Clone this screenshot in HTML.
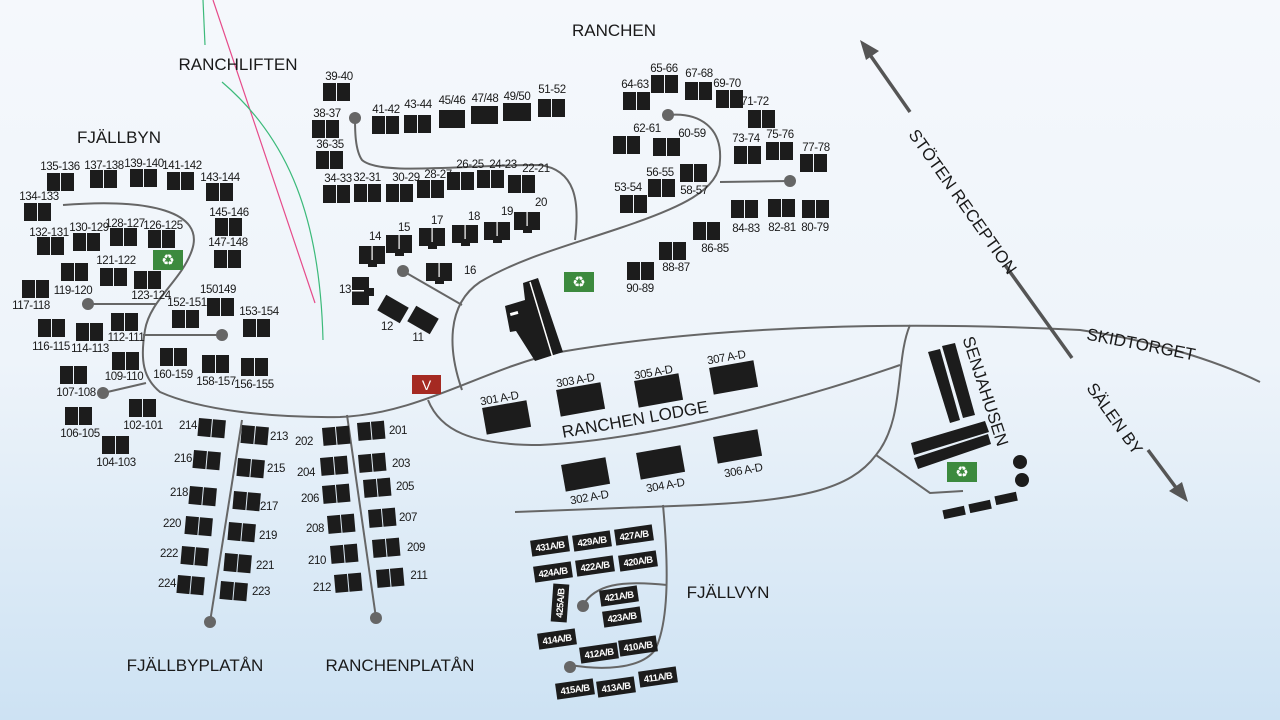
<!DOCTYPE html>
<html><head><meta charset="utf-8"><style>
html,body{margin:0;padding:0;width:1280px;height:720px;overflow:hidden}
svg{display:block}
text{font-family:"Liberation Sans Narrow","Liberation Sans",sans-serif;fill:#1a1a1a}
.n{font-size:11.5px;text-anchor:middle;letter-spacing:-0.4px}
.t{font-size:17px;text-anchor:middle;font-family:"Liberation Sans",sans-serif}
.r{fill:none;stroke:#666;stroke-width:2}
.w{font-size:9.5px;fill:#fff;text-anchor:middle;font-weight:bold;letter-spacing:-0.5px}
</style></head><body>
<svg width="1280" height="720" viewBox="0 0 1280 720" xmlns="http://www.w3.org/2000/svg">
<defs>
<linearGradient id="bg" x1="0" y1="0" x2="0" y2="1">
<stop offset="0" stop-color="#f5f8fc"/><stop offset="0.5" stop-color="#eef4fa"/><stop offset="1" stop-color="#cde2f3"/></linearGradient>
<symbol id="p" overflow="visible"><rect x="0" y="0" width="13" height="18" fill="#1c1c1c"/><rect x="14" y="0" width="13" height="18" fill="#1c1c1c"/></symbol>
<symbol id="h" overflow="visible"><rect x="0" y="0" width="26" height="18" fill="#1c1c1c"/><rect x="9" y="17" width="9" height="4" fill="#1c1c1c"/><rect x="12.5" y="0" width="1.2" height="14" fill="#fff"/></symbol>
<symbol id="rc" overflow="visible"><rect width="30" height="20" fill="#3c8a3e"/><text x="15" y="15" style="font-size:15px;fill:#fff;text-anchor:middle;font-family:'DejaVu Sans',sans-serif">♻</text></symbol>
</defs>
<rect width="1280" height="720" fill="url(#bg)"/>

<!-- lift lines -->
<path d="M213,0 L315,303" stroke="#e64b8a" stroke-width="1.2" fill="none"/>
<path d="M203,0 L205,45" stroke="#3cba7a" stroke-width="1.2" fill="none"/>
<path d="M222,82 C290,140 320,220 323,340" stroke="#3cba7a" stroke-width="1.2" fill="none"/>

<!-- roads -->
<path class="r" d="M63,205 C150,198 205,212 192,250 C182,280 150,300 145,330 C140,360 143,378 160,392 C200,410 270,418 340,417 C420,414 480,370 560,352 C700,328 880,320 1080,330 C1150,340 1215,360 1260,382"/>
<path class="r" d="M88,304 L157,304"/>
<path class="r" d="M143,335 L222,335"/>
<path class="r" d="M103,393 L146,383"/>
<path class="r" d="M242,420 L210,622"/>
<path class="r" d="M347,415 L376,618"/>
<path class="r" d="M462,390 C448,350 446,305 480,282 C520,258 570,245 620,228 C680,208 720,190 720,160 C722,128 700,112 668,115"/>
<path class="r" d="M720,182 L790,181"/>
<path class="r" d="M575,240 C580,200 575,170 540,165 C460,165 380,176 362,160 C355,150 355,130 355,118"/>
<path class="r" d="M403,271 L462,305"/>
<path class="r" d="M428,400 C440,430 470,445 540,445 C650,440 800,400 900,365"/>
<path class="r" d="M910,325 C895,360 905,420 876,455 C850,490 800,500 700,505 L515,512"/>
<path class="r" d="M876,455 L930,493 L963,491"/>
<path class="r" d="M663,505 C668,560 670,620 655,650 C640,670 600,670 570,665"/>
<path class="r" d="M667,585 C620,580 595,585 583,605"/>
<g fill="#666">
<circle cx="88" cy="304" r="6"/><circle cx="222" cy="335" r="6"/><circle cx="103" cy="393" r="6"/>
<circle cx="210" cy="622" r="6"/><circle cx="376" cy="618" r="6"/><circle cx="355" cy="118" r="6"/>
<circle cx="668" cy="115" r="6"/><circle cx="790" cy="181" r="6"/><circle cx="403" cy="271" r="6"/>
<circle cx="583" cy="606" r="6"/><circle cx="570" cy="667" r="6"/>
</g>

<!-- arrows -->
<g stroke="#555" stroke-width="3.5" fill="none">
<path d="M868,52 L910,112"/><path d="M1005,265 L1072,358"/><path d="M1148,450 L1180,493"/>
</g>
<polygon points="860,40 879,51 866,60" fill="#555"/>
<polygon points="1188,502 1169,491 1182,482" fill="#555"/>
<text class="t" transform="translate(958,205) rotate(54.6)">STÖTEN RECEPTION</text>
<text class="t" transform="translate(1110,422) rotate(54.6)">SÄLEN BY</text>
<text class="t" transform="translate(1140,350) rotate(11)">SKIDTORGET</text>

<!-- titles -->
<text class="t" x="614" y="36">RANCHEN</text>
<text class="t" x="238" y="70">RANCHLIFTEN</text>
<text class="t" x="119" y="143">FJÄLLBYN</text>
<text class="t" x="195" y="671">FJÄLLBYPLATÅN</text>
<text class="t" x="400" y="671">RANCHENPLATÅN</text>
<text class="t" x="728" y="598">FJÄLLVYN</text>
<text class="t" transform="translate(636,425) rotate(-10)">RANCHEN LODGE</text>
<text class="t" transform="translate(980,393) rotate(72)">SENJAHUSEN</text>

<!-- Fjällbyn -->
<g>
<use href="#p" x="47" y="173"/><use href="#p" x="90" y="170"/><use href="#p" x="130" y="169"/><use href="#p" x="167" y="172"/>
<use href="#p" x="206" y="183"/><use href="#p" x="24" y="203"/><use href="#p" x="215" y="218"/><use href="#p" x="214" y="250"/>
<use href="#p" x="37" y="237"/><use href="#p" x="73" y="233"/><use href="#p" x="110" y="228"/><use href="#p" x="148" y="230"/>
<use href="#p" x="100" y="268"/><use href="#p" x="134" y="271"/><use href="#p" x="61" y="263"/><use href="#p" x="22" y="280"/>
<use href="#p" x="207" y="298"/><use href="#p" x="172" y="310"/><use href="#p" x="243" y="319"/><use href="#p" x="38" y="319"/>
<use href="#p" x="76" y="323"/><use href="#p" x="111" y="313"/><use href="#p" x="112" y="352"/><use href="#p" x="160" y="348"/>
<use href="#p" x="202" y="355"/><use href="#p" x="241" y="358"/><use href="#p" x="60" y="366"/><use href="#p" x="65" y="407"/>
<use href="#p" x="129" y="399"/><use href="#p" x="102" y="436"/>
<use href="#rc" x="153" y="250"/>
</g>
<g class="n">
<text class="n" x="60" y="170">135-136</text><text class="n" x="104" y="169">137-138</text><text class="n" x="144" y="167">139-140</text><text class="n" x="182" y="169">141-142</text>
<text class="n" x="220" y="181">143-144</text><text class="n" x="39" y="200">134-133</text><text class="n" x="229" y="216">145-146</text><text class="n" x="228" y="246">147-148</text>
<text class="n" x="49" y="236">132-131</text><text class="n" x="89" y="231">130-129</text><text class="n" x="125" y="227">128-127</text><text class="n" x="163" y="229">126-125</text>
<text class="n" x="116" y="264">121-122</text><text class="n" x="151" y="299">123-124</text><text class="n" x="73" y="294">119-120</text><text class="n" x="31" y="309">117-118</text>
<text class="n" x="218" y="293">150149</text><text class="n" x="187" y="306">152-151</text><text class="n" x="259" y="315">153-154</text><text class="n" x="51" y="350">116-115</text>
<text class="n" x="90" y="352">114-113</text><text class="n" x="126" y="341">112-111</text><text class="n" x="124" y="380">109-110</text><text class="n" x="173" y="378">160-159</text>
<text class="n" x="216" y="385">158-157</text><text class="n" x="254" y="388">156-155</text><text class="n" x="76" y="396">107-108</text><text class="n" x="80" y="437">106-105</text>
<text class="n" x="143" y="429">102-101</text><text class="n" x="116" y="466">104-103</text>
</g>

<!-- 200s -->
<g>
<use href="#p" transform="translate(199,418) rotate(5)"/><use href="#p" transform="translate(242,425) rotate(5)"/>
<use href="#p" transform="translate(194,450) rotate(5)"/><use href="#p" transform="translate(238,458) rotate(5)"/>
<use href="#p" transform="translate(190,486) rotate(5)"/><use href="#p" transform="translate(234,491) rotate(5)"/>
<use href="#p" transform="translate(186,516) rotate(5)"/><use href="#p" transform="translate(229,522) rotate(5)"/>
<use href="#p" transform="translate(182,546) rotate(5)"/><use href="#p" transform="translate(225,553) rotate(5)"/>
<use href="#p" transform="translate(178,575) rotate(5)"/><use href="#p" transform="translate(221,581) rotate(5)"/>
<use href="#p" transform="translate(322,428) rotate(-5)"/><use href="#p" transform="translate(357,423) rotate(-5)"/>
<use href="#p" transform="translate(320,458) rotate(-5)"/><use href="#p" transform="translate(358,455) rotate(-5)"/>
<use href="#p" transform="translate(322,486) rotate(-5)"/><use href="#p" transform="translate(363,480) rotate(-5)"/>
<use href="#p" transform="translate(327,516) rotate(-5)"/><use href="#p" transform="translate(368,510) rotate(-5)"/>
<use href="#p" transform="translate(330,546) rotate(-5)"/><use href="#p" transform="translate(372,540) rotate(-5)"/>
<use href="#p" transform="translate(334,575) rotate(-5)"/><use href="#p" transform="translate(376,570) rotate(-5)"/>
</g>
<text class="n" x="188" y="429">214</text><text class="n" x="279" y="440">213</text><text class="n" x="183" y="462">216</text><text class="n" x="276" y="472">215</text>
<text class="n" x="179" y="496">218</text><text class="n" x="269" y="510">217</text><text class="n" x="172" y="527">220</text><text class="n" x="268" y="539">219</text>
<text class="n" x="169" y="557">222</text><text class="n" x="265" y="569">221</text><text class="n" x="167" y="587">224</text><text class="n" x="261" y="595">223</text>
<text class="n" x="304" y="445">202</text><text class="n" x="398" y="434">201</text><text class="n" x="306" y="476">204</text><text class="n" x="401" y="467">203</text>
<text class="n" x="310" y="502">206</text><text class="n" x="405" y="490">205</text><text class="n" x="315" y="532">208</text><text class="n" x="408" y="521">207</text>
<text class="n" x="317" y="564">210</text><text class="n" x="416" y="551">209</text><text class="n" x="322" y="591">212</text><text class="n" x="419" y="579">211</text>

<!-- Ranchen -->
<g>
<use href="#p" x="323" y="83"/><use href="#p" x="312" y="120"/><use href="#p" x="316" y="151"/>
<use href="#p" x="372" y="116"/><use href="#p" x="404" y="115"/>
<rect x="439" y="110" width="26" height="18" fill="#1c1c1c"/><rect x="471" y="106" width="27" height="18" fill="#1c1c1c"/><rect x="503" y="103" width="28" height="18" fill="#1c1c1c"/>
<use href="#p" x="538" y="99"/><use href="#p" x="323" y="185"/><use href="#p" x="354" y="184"/><use href="#p" x="386" y="184"/>
<use href="#p" x="417" y="180"/><use href="#p" x="447" y="172"/><use href="#p" x="477" y="170"/><use href="#p" x="508" y="175"/>
<use href="#h" x="359" y="246"/><use href="#h" x="386" y="235"/><use href="#h" x="419" y="228"/><use href="#h" x="452" y="225"/>
<use href="#h" x="484" y="222"/><use href="#h" x="514" y="212"/><use href="#h" x="426" y="263"/>
<rect x="352" y="277" width="17" height="28" fill="#1c1c1c"/><rect x="369" y="288" width="5" height="8" fill="#1c1c1c"/><rect x="352" y="290" width="12" height="1.5" fill="#fff"/>
<rect x="380" y="300" width="26" height="18" fill="#1c1c1c" transform="rotate(30 393 309)"/>
<rect x="410" y="311" width="26" height="18" fill="#1c1c1c" transform="rotate(30 423 320)"/>
<polygon points="523,283 538,278 563,352 535,361 516,331 510,332 505,306 525,300" fill="#1c1c1c"/>
<line x1="530" y1="282" x2="553" y2="358" stroke="#fff" stroke-width="1.5"/>
<rect x="510" y="312" width="8" height="3" fill="#fff" transform="rotate(-15 514 313)"/>
<use href="#rc" x="564" y="272"/>
<use href="#p" x="623" y="92"/><use href="#p" x="651" y="75"/><use href="#p" x="685" y="82"/><use href="#p" x="716" y="90"/>
<use href="#p" x="748" y="110"/><use href="#p" x="613" y="136"/><use href="#p" x="653" y="138"/><use href="#p" x="734" y="146"/>
<use href="#p" x="766" y="142"/><use href="#p" x="800" y="154"/><use href="#p" x="648" y="179"/><use href="#p" x="680" y="164"/>
<use href="#p" x="620" y="195"/><use href="#p" x="731" y="200"/><use href="#p" x="768" y="199"/><use href="#p" x="802" y="200"/>
<use href="#p" x="693" y="222"/><use href="#p" x="659" y="242"/><use href="#p" x="627" y="262"/>
</g>
<text class="n" x="339" y="80">39-40</text><text class="n" x="327" y="117">38-37</text><text class="n" x="330" y="148">36-35</text>
<text class="n" x="386" y="113">41-42</text><text class="n" x="418" y="108">43-44</text><text class="n" x="452" y="104">45/46</text>
<text class="n" x="485" y="102">47/48</text><text class="n" x="517" y="100">49/50</text><text class="n" x="552" y="93">51-52</text>
<text class="n" x="338" y="182">34-33</text><text class="n" x="367" y="181">32-31</text><text class="n" x="406" y="181">30-29</text><text class="n" x="438" y="178">28-27</text>
<text class="n" x="470" y="168">26-25</text><text class="n" x="503" y="168">24-23</text><text class="n" x="536" y="172">22-21</text>
<text class="n" x="375" y="240">14</text><text class="n" x="404" y="231">15</text><text class="n" x="437" y="224">17</text><text class="n" x="474" y="220">18</text>
<text class="n" x="507" y="215">19</text><text class="n" x="541" y="206">20</text><text class="n" x="470" y="274">16</text>
<text class="n" x="345" y="293">13</text><text class="n" x="387" y="330">12</text><text class="n" x="418" y="341">11</text>
<text class="n" x="635" y="88">64-63</text><text class="n" x="664" y="72">65-66</text><text class="n" x="699" y="77">67-68</text><text class="n" x="727" y="87">69-70</text>
<text class="n" x="755" y="105">71-72</text><text class="n" x="647" y="132">62-61</text><text class="n" x="692" y="137">60-59</text><text class="n" x="746" y="142">73-74</text>
<text class="n" x="780" y="138">75-76</text><text class="n" x="816" y="151">77-78</text><text class="n" x="660" y="176">56-55</text><text class="n" x="694" y="194">58-57</text>
<text class="n" x="628" y="191">53-54</text><text class="n" x="746" y="232">84-83</text><text class="n" x="782" y="231">82-81</text><text class="n" x="815" y="231">80-79</text>
<text class="n" x="715" y="252">86-85</text><text class="n" x="676" y="271">88-87</text><text class="n" x="640" y="292">90-89</text>

<!-- V -->
<rect x="412" y="375" width="29" height="19" fill="#a52a22"/>
<text x="426.5" y="390" style="font-size:14px;fill:#fff;text-anchor:middle;font-family:'Liberation Sans',sans-serif">V</text>

<!-- lodge 300s -->
<g fill="#1c1c1c">
<rect x="484" y="404" width="45" height="27" transform="rotate(-10 506 417)"/>
<rect x="558" y="386" width="45" height="27" transform="rotate(-10 580 399)"/>
<rect x="636" y="377" width="45" height="27" transform="rotate(-10 658 390)"/>
<rect x="711" y="364" width="45" height="27" transform="rotate(-10 733 377)"/>
<rect x="563" y="461" width="45" height="27" transform="rotate(-10 585 474)"/>
<rect x="638" y="449" width="45" height="27" transform="rotate(-10 660 462)"/>
<rect x="715" y="433" width="45" height="27" transform="rotate(-10 737 446)"/>
</g>
<text class="n" transform="translate(500,402) rotate(-10)">301 A-D</text>
<text class="n" transform="translate(576,384) rotate(-10)">303 A-D</text>
<text class="n" transform="translate(654,376) rotate(-10)">305 A-D</text>
<text class="n" transform="translate(727,361) rotate(-10)">307 A-D</text>
<text class="n" transform="translate(590,501) rotate(-10)">302 A-D</text>
<text class="n" transform="translate(666,489) rotate(-10)">304 A-D</text>
<text class="n" transform="translate(744,474) rotate(-10)">306 A-D</text>

<!-- Senjahusen -->
<g fill="#1c1c1c">
<polygon points="928,352 940,349 960,420 950,423"/>
<polygon points="942,346 955,343 975,415 963,418"/>
<polygon points="911,443 985,421 989,432 914,455"/>
<polygon points="914,458 988,434 991,444 918,469"/>
<circle cx="1020" cy="462" r="7"/><circle cx="1022" cy="480" r="7"/>
<rect x="943" y="508" width="22" height="9" transform="rotate(-12 954 512)"/>
<rect x="969" y="502" width="22" height="9" transform="rotate(-12 980 506)"/>
<rect x="995" y="494" width="22" height="9" transform="rotate(-12 1006 498)"/>
</g>
<use href="#rc" x="947" y="462"/>

<!-- Fjällvyn -->
<g>
<g transform="translate(550,546) rotate(-8)"><rect x="-19" y="-8" width="38" height="16" fill="#1c1c1c"/><text class="w" y="3.5">431A/B</text></g>
<g transform="translate(592,541) rotate(-8)"><rect x="-19" y="-8" width="38" height="16" fill="#1c1c1c"/><text class="w" y="3.5">429A/B</text></g>
<g transform="translate(634,535) rotate(-8)"><rect x="-19" y="-8" width="38" height="16" fill="#1c1c1c"/><text class="w" y="3.5">427A/B</text></g>
<g transform="translate(553,572) rotate(-8)"><rect x="-19" y="-8" width="38" height="16" fill="#1c1c1c"/><text class="w" y="3.5">424A/B</text></g>
<g transform="translate(595,566) rotate(-8)"><rect x="-19" y="-8" width="38" height="16" fill="#1c1c1c"/><text class="w" y="3.5">422A/B</text></g>
<g transform="translate(638,561) rotate(-8)"><rect x="-19" y="-8" width="38" height="16" fill="#1c1c1c"/><text class="w" y="3.5">420A/B</text></g>
<g transform="translate(560,603) rotate(-86)"><rect x="-19" y="-8" width="38" height="16" fill="#1c1c1c"/><text class="w" y="3.5">425A/B</text></g>
<g transform="translate(619,596) rotate(-8)"><rect x="-19" y="-8" width="38" height="16" fill="#1c1c1c"/><text class="w" y="3.5">421A/B</text></g>
<g transform="translate(622,617) rotate(-8)"><rect x="-19" y="-8" width="38" height="16" fill="#1c1c1c"/><text class="w" y="3.5">423A/B</text></g>
<g transform="translate(557,639) rotate(-8)"><rect x="-19" y="-8" width="38" height="16" fill="#1c1c1c"/><text class="w" y="3.5">414A/B</text></g>
<g transform="translate(599,653) rotate(-8)"><rect x="-19" y="-8" width="38" height="16" fill="#1c1c1c"/><text class="w" y="3.5">412A/B</text></g>
<g transform="translate(638,646) rotate(-8)"><rect x="-19" y="-8" width="38" height="16" fill="#1c1c1c"/><text class="w" y="3.5">410A/B</text></g>
<g transform="translate(575,689) rotate(-8)"><rect x="-19" y="-8" width="38" height="16" fill="#1c1c1c"/><text class="w" y="3.5">415A/B</text></g>
<g transform="translate(616,687) rotate(-8)"><rect x="-19" y="-8" width="38" height="16" fill="#1c1c1c"/><text class="w" y="3.5">413A/B</text></g>
<g transform="translate(658,677) rotate(-8)"><rect x="-19" y="-8" width="38" height="16" fill="#1c1c1c"/><text class="w" y="3.5">411A/B</text></g>
</g>
</svg>
</body></html>
